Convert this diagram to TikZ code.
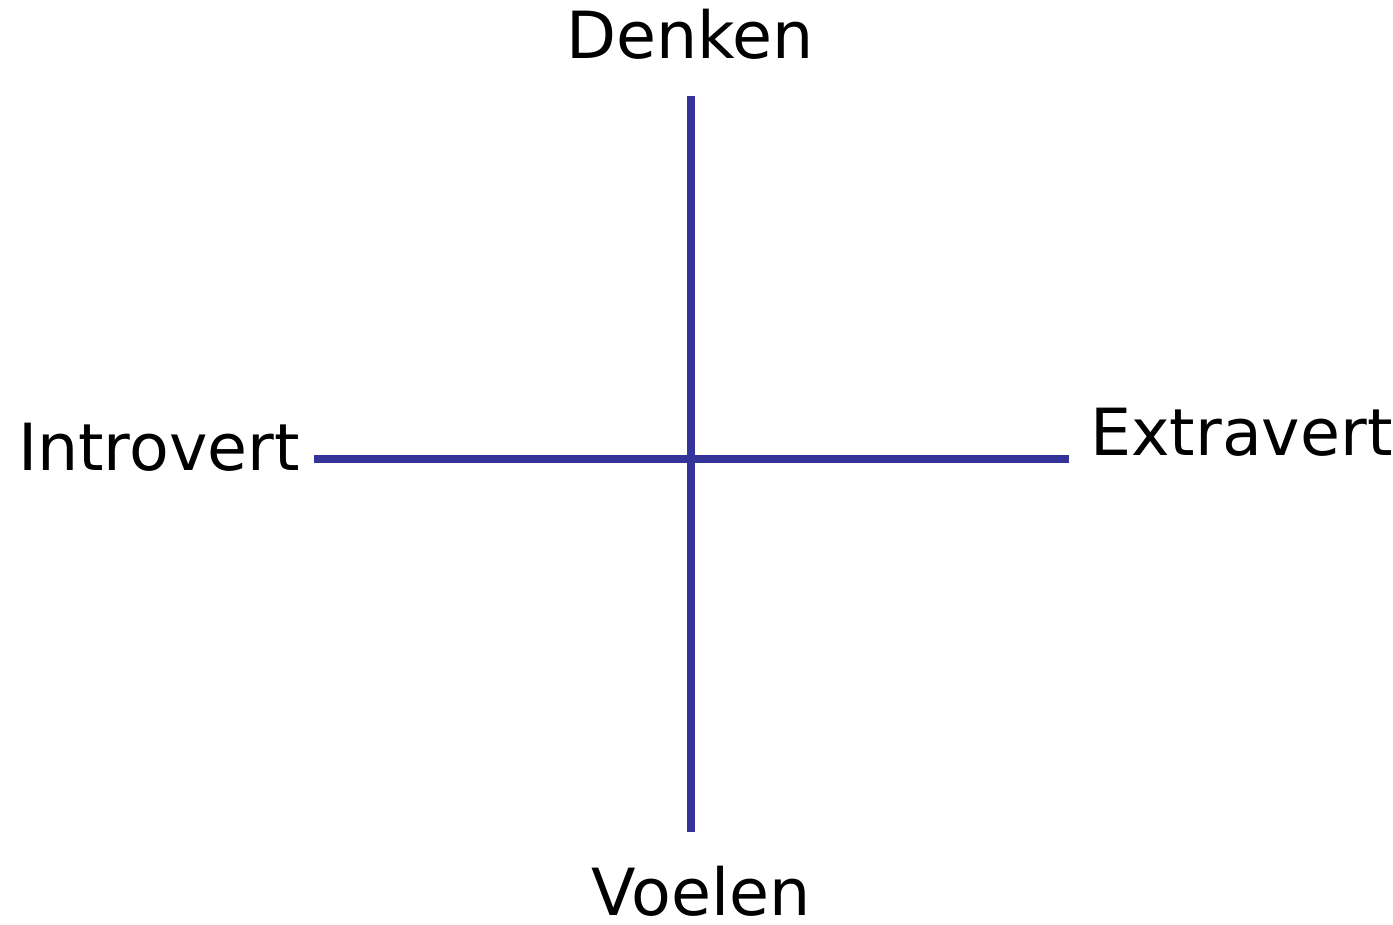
\documentclass[tikz,border=0pt]{standalone}
\usepackage{fontspec}
\setmainfont{DejaVu Sans}
\definecolor{asblauw}{RGB}{51,51,153}

\begin{document}
\begin{tikzpicture}[x=0.02cm, y=-0.02cm,
        as/.style={draw=asblauw, line width=4pt},
        label/.style={inner sep=0pt, font=\fontsize{37}{44}\selectfont}]
            % 1. Kader
            \useasboundingbox (0,0) rectangle (1393,925);

            % 2. Eindpunten van de assen
            \coordinate (boven) at (691,96);
            \coordinate (onder) at (691,832);
            \coordinate (links) at (314,459);
            \coordinate (rechts) at (1069,459);

            % 3. Assen
            \draw[as] (boven) -- (onder);
            \draw[as] (links) -- (rechts);

            % 4. Opschriften
            \node[label, anchor=base] (denken) at (690,59) {Denken};
            \node[label, anchor=base] (voelen) at (701,915) {Voelen};
            \node[label, anchor=base east] (introvert) at (300,471) {Introvert};
            \node[label, anchor=base west] (extravert) at (1090,456) {Extravert};
        \end{tikzpicture}
\end{document}
